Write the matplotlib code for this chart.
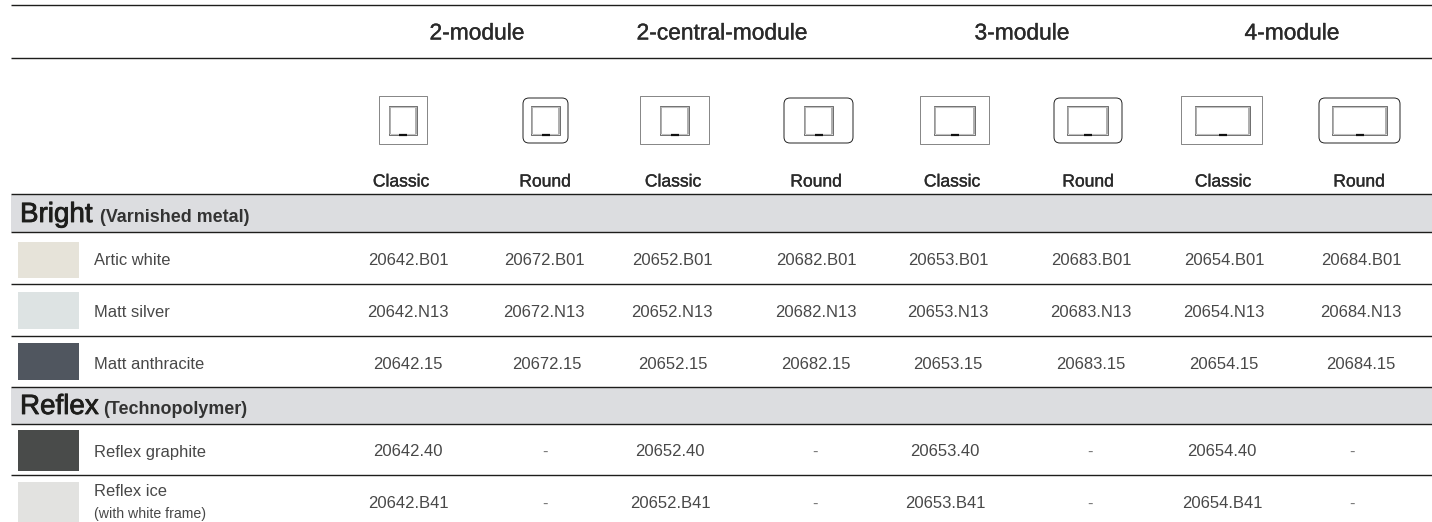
import matplotlib
matplotlib.use('Agg')
import matplotlib.pyplot as plt
from matplotlib.patches import Rectangle, FancyBboxPatch
import matplotlib.patheffects as pe

plt.rcParams['font.family'] = ['Liberation Sans', 'DejaVu Sans']

# table content
modules = ['2-module', '2-central-module', '3-module', '4-module']
variants = ['Classic', 'Round', 'Classic', 'Round', 'Classic', 'Round', 'Classic', 'Round']
groups = [('Bright', '(Varnished metal)'), ('Reflex', '(Technopolymer)')]
finishes = ['Artic white', 'Matt silver', 'Matt anthracite', 'Reflex graphite', 'Reflex ice']
artic_white = ['20642.B01', '20672.B01', '20652.B01', '20682.B01', '20653.B01', '20683.B01', '20654.B01', '20684.B01']
matt_silver = ['20642.N13', '20672.N13', '20652.N13', '20682.N13', '20653.N13', '20683.N13', '20654.N13', '20684.N13']
matt_anthracite = ['20642.15', '20672.15', '20652.15', '20682.15', '20653.15', '20683.15', '20654.15', '20684.15']
reflex_graphite = ['20642.40', '-', '20652.40', '-', '20653.40', '-', '20654.40', '-']
reflex_ice = ['20642.B41', '-', '20652.B41', '-', '20653.B41', '-', '20654.B41', '-']
swatch_colors = ['#e6e3d9', '#dde3e3', '#50565f', '#494b4a', '#e2e2e0']

# layout, in pixels of the 1432x522 page
module_x = [477, 722, 1022, 1292]
variant_x = [401, 545, 673, 816, 952, 1088, 1223, 1359]
code_x = [408, 544, 672, 816, 948, 1091, 1224, 1361]
code_x_short = [408, 547, 673, 816, 948, 1091, 1224, 1361]
code_x_reflex = [408, 545, 670, 815, 945, 1090, 1222, 1352]
row_y = [260.5, 312.5, 364.5, 452, 504]
swatch_y = [(242, 278), (292, 329), (343, 380), (430, 471), (482, 522)]
rules_y = [5, 58, 194, 232, 284, 336, 387, 424, 475]
bands_y = [(195, 232), (388, 424)]
outer_x = [(379, 427), (523, 568), (640, 709), (784, 853), (920, 989), (1054, 1122), (1181, 1262), (1319, 1400)]
inner_x = [(389, 417), (531, 560), (660, 689), (804, 833), (934, 975), (1067, 1108), (1195, 1250), (1332, 1387)]

fig = plt.figure(figsize=(14.32, 5.22), dpi=100)
ax = fig.add_axes([0, 0, 1, 1])
ax.set_xlim(0, 1432)
ax.set_ylim(522, 0)
ax.axis('off')

ink = '#484848'
dark = '#1d1d1b'

for y0, y1 in bands_y:
    ax.add_patch(Rectangle((11, y0), 1421, y1 - y0, fc='#dcdde0', ec='none'))
for y in rules_y:
    ax.plot([11, 1432], [y, y], color=dark, lw=1.0, solid_capstyle='butt')

heavy = [pe.withStroke(linewidth=0.6, foreground=dark)]
medium = [pe.withStroke(linewidth=0.25, foreground='#2a2a2a')]
for x, name in zip(module_x, modules):
    ax.text(x, 33, name, ha='center', va='center', fontsize=16.4, color='#2a2a2a', path_effects=medium)
for x, name in zip(variant_x, variants):
    ax.text(x, 182, name, ha='center', va='center', fontsize=12.6, color='#2a2a2a', path_effects=medium)

# module frames
for i, ((x0, x1), (ix0, ix1)) in enumerate(zip(outer_x, inner_x)):
    if i % 2 == 0:
        ax.add_patch(Rectangle((x0, 96), x1 - x0, 48, fc='white', ec='#555555', lw=0.5))
    else:
        ax.add_patch(FancyBboxPatch((x0 + 6, 104), x1 - x0 - 12, 33,
                                    boxstyle='round,pad=6,rounding_size=6',
                                    fc='white', ec='#222222', lw=0.7))
    # thick grey sides inside the thin dark outline
    ax.add_patch(Rectangle((ix0, 106), ix1 - ix0, 29, fc='white', ec='#333333', lw=0.5))
    ax.plot([ix0 + 1, ix0 + 1], [107, 134], color='#a0a0a0', lw=1.2, solid_capstyle='butt')
    ax.plot([ix1 - 1, ix1 - 1], [107, 134], color='#a0a0a0', lw=1.2, solid_capstyle='butt')
    ax.plot([ix0 + 1, ix1 - 1], [107, 107], color='#c0c0c0', lw=0.8, solid_capstyle='butt')
    ax.plot([ix0 + 1, ix1 - 1], [134, 134], color='#c0c0c0', lw=0.8, solid_capstyle='butt')
    mid = (ix0 + ix1) / 2
    ax.plot([mid - 4, mid + 4], [134.5, 134.5], color='#111111', lw=1.6, solid_capstyle='butt')

# section titles
ax.text(20, 215, groups[0][0], ha='left', va='center', fontsize=20, color=dark, path_effects=heavy)
ax.text(100, 217, groups[0][1], ha='left', va='center', fontsize=12.9, fontweight='bold', color='#333333')
ax.text(20, 407, groups[1][0], ha='left', va='center', fontsize=20, color=dark, path_effects=heavy)
ax.text(103, 409, groups[1][1], ha='left', va='center', fontsize=12.9, fontweight='bold', color='#333333')

# swatches and finish names
for (y0, y1), c in zip(swatch_y, swatch_colors):
    ax.add_patch(Rectangle((18, y0), 61, y1 - y0, fc=c, ec='none'))
for y, name in zip(row_y[:4], finishes[:4]):
    ax.text(94, y, name, ha='left', va='center', fontsize=11.9, color=ink)
ax.text(94, 492, finishes[4], ha='left', va='center', fontsize=11.9, color=ink)
ax.text(94, 514, '(with white frame)', ha='left', va='center', fontsize=10.2, color=ink)

# code rows
code_rows = [artic_white, matt_silver, matt_anthracite, reflex_graphite, reflex_ice]
row_columns = [code_x, code_x, code_x_short, code_x_reflex, code_x_reflex]
for y, codes, xs in zip(row_y, code_rows, row_columns):
    for x, code in zip(xs, codes):
        ax.text(x, y, code, ha='center', va='center', fontsize=12, color=ink if code != '-' else '#777777')

fig.savefig('out.png', dpi=100)
